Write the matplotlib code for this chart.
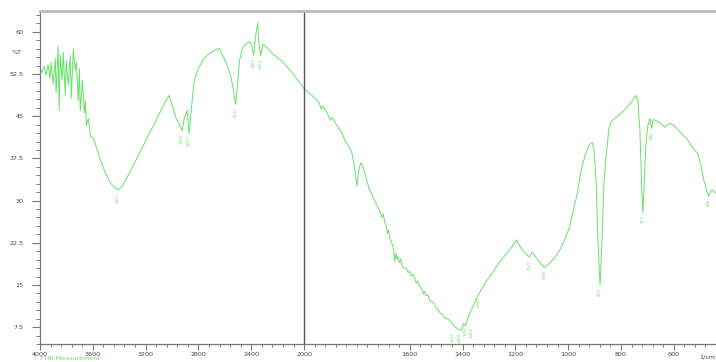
import numpy as np
import matplotlib
matplotlib.use("Agg")
import matplotlib.pyplot as plt
from matplotlib.ticker import FixedLocator, FuncFormatter

# FTIR spectrum (wavenumber 1/cm, transmittance %T)
wavenumber = [
    4000, 3985, 3969, 3954, 3939, 3924, 3916, 3901, 3885, 3878, 3863, 3855,
    3847, 3832, 3824, 3809, 3802, 3786, 3771, 3763, 3748, 3733, 3725, 3710,
    3702, 3695, 3679, 3664, 3656, 3649, 3634, 3618, 3595, 3565, 3542, 3504,
    3466, 3435, 3412, 3382, 3343, 3275, 3198, 3122, 3061, 3023, 3000, 2969,
    2939, 2924, 2908, 2885, 2870, 2855, 2832, 2801, 2756, 2702, 2656, 2641,
    2618, 2588, 2557, 2534, 2519, 2504, 2489, 2466, 2435, 2412, 2397, 2382,
    2366, 2351, 2344, 2328, 2313, 2290, 2244, 2168, 2092, 2000,
    1970, 1943, 1935, 1930, 1913, 1900, 1895, 1883, 1868, 1857, 1845, 1830,
    1819, 1808, 1800, 1792, 1785, 1777, 1770, 1755, 1736,
    1713, 1705, 1700, 1694, 1688, 1684, 1680, 1675, 1670, 1664, 1660, 1657,
    1652, 1648, 1645, 1638, 1634, 1630, 1625, 1619, 1612, 1606, 1600, 1594,
    1588, 1581, 1575, 1570, 1563, 1555, 1548, 1544, 1538, 1532, 1525, 1519,
    1512, 1506, 1499, 1492, 1485, 1479, 1470, 1462, 1453,
    1434, 1415, 1404, 1396,
    1389, 1374, 1358, 1347, 1340, 1328, 1309, 1290, 1264, 1226, 1207, 1196,
    1185, 1170, 1155, 1147, 1136, 1128, 1113, 1102, 1090, 1072, 1053, 1034,
    1015, 996, 981, 966, 951, 936, 921, 909, 902, 894, 887, 879, 872, 864,
    857, 845, 834, 823, 800, 781, 762, 743, 736, 728, 721, 717, 713, 706,
    698, 691, 683, 679, 668, 649, 634, 623, 611, 592, 574, 551, 528, 509,
    498, 487, 475, 468, 460, 453, 438,
]
transmittance = [
    53.5, 52.8, 53.9, 52.3, 54.2, 51.7, 54.6, 50.7, 55.3, 49.2, 57.4, 46.0,
    55.8, 51.4, 56.4, 48.7, 54.9, 50.5, 55.8, 48.2, 56.9, 53.2, 54.6, 47.8,
    53.5, 46.0, 51.4, 45.6, 47.8, 43.3, 44.6, 41.5, 41.0, 38.9, 37.1, 34.9,
    33.1, 32.3, 31.9, 32.4, 34.0, 37.1, 40.7, 44.2, 47.1, 48.7, 47.1, 44.6,
    43.3, 42.4, 44.6, 46.0, 41.9, 46.0, 51.4, 53.5, 55.3, 56.4, 56.9, 57.1,
    55.8, 54.4, 52.3, 49.6, 47.1, 50.5, 54.9, 57.1, 58.0, 58.2, 57.6, 55.8,
    59.4, 61.6, 58.5, 55.7, 57.8, 57.4, 56.2, 54.8, 52.8, 49.9,
    48.7, 47.4, 46.2, 46.8, 45.6, 44.3, 44.8, 43.9, 42.8, 42.1, 40.6, 39.6,
    38.5, 35.6, 32.6, 35.6, 36.7, 36.0, 34.9, 32.3, 30.3,
    28.1, 27.0, 27.6, 26.0, 25.5, 24.2, 24.8, 23.1, 22.8, 21.9, 21.0, 19.2,
    20.6, 19.6, 20.1, 19.0, 19.6, 18.8, 18.1, 18.0, 17.9, 17.2, 17.4, 16.6,
    16.9, 16.2, 15.3, 15.7, 14.8, 14.4, 13.4, 13.9, 13.1, 13.3, 12.4, 12.0,
    11.9, 11.6, 10.8, 10.6, 10.0, 9.9, 9.3, 9.1, 8.9,
    7.8, 7.1, 6.9, 8.1,
    7.8, 9.8, 11.4, 12.6, 13.3, 14.2, 15.7, 16.9, 18.8, 21.0, 22.1, 23.0,
    22.1, 21.0, 20.3, 20.0, 20.8, 20.3, 19.4, 18.7, 18.1, 18.8, 19.7, 21.0,
    22.8, 25.1, 28.1, 31.1, 35.3, 38.0, 39.8, 40.3, 39.2, 33.5, 22.8, 14.9, 22.8, 33.5,
    37.6, 43.0, 44.2, 44.6, 45.5, 46.4, 47.4, 48.7, 47.8, 42.4, 31.7, 27.8, 31.7, 39.7,
    43.3, 44.6, 42.8, 44.4, 44.2, 43.7, 43.0, 43.5, 43.7, 43.0, 42.1, 41.0, 39.4, 38.3,
    36.5, 33.8, 31.7, 30.8, 31.7, 31.9, 31.2,
]

# picked peaks (labels under the minima)
peak_wn = [3412, 2924, 2870, 2519, 2382, 2328, 1415, 1404, 1396, 1389, 1340,
           1147, 1090, 879, 717, 683, 468]
peak_t = [31.9, 42.4, 41.9, 47.1, 55.8, 55.7, 7.1, 6.9, 8.1, 7.8, 13.3,
          20.0, 18.1, 14.9, 27.8, 42.8, 30.8]

x_major = [4000, 3600, 3200, 2800, 2400, 2000, 1600, 1400, 1200, 1000, 800, 600]
y_major = [7.5, 15, 22.5, 30, 37.5, 45, 52.5, 60]

GREEN = "#66e266"


# x axis is expanded 2x below 2000 1/cm, like the instrument software
def fwd(x):
    x = np.asarray(x, dtype=float)
    return np.where(x >= 2000, x - 2000, 2 * (x - 2000))


def inv(t):
    t = np.asarray(t, dtype=float)
    return np.where(t >= 0, t + 2000, 2000 + t / 2)


fig = plt.figure(figsize=(7.16, 3.62), dpi=100)
ax = fig.add_axes([40 / 716, 18 / 362, 676 / 716, 333 / 362])

ax.plot(wavenumber, transmittance, color=GREEN, lw=0.7)

# spread the crowded labels around 1400 a little
cluster = [1415, 1404, 1396, 1389]
for w, t in zip(peak_wn, peak_t):
    dx = (cluster.index(w) - 1.5) * 3.0 if w in cluster else 0
    ax.annotate(str(w), xy=(w, t), xytext=(dx, -2), textcoords="offset points",
                rotation=90, ha="center", va="top", fontsize=2.8, color=GREEN)

ax.set_xscale("function", functions=(fwd, inv))
ax.set_xlim(4000, 440)
ax.set_ylim(4.5, 63.7)

ax.axvline(2000, color="#555555", lw=1.0)

ax.xaxis.set_major_locator(FixedLocator(x_major))
x_minor = list(range(4000, 2000, -80)) + list(range(2000, 439, -40))
ax.xaxis.set_minor_locator(FixedLocator(x_minor))
ax.xaxis.set_major_formatter(FuncFormatter(lambda v, p: f"{v:g}"))

ax.yaxis.set_major_locator(FixedLocator(y_major))
ax.yaxis.set_minor_locator(FixedLocator(np.arange(4.5, 63.8, 1.5)))
ax.yaxis.set_major_formatter(FuncFormatter(lambda v, p: f"{v:g}"))

ax.tick_params(axis="both", which="major", labelsize=4.6, labelcolor="#444444",
               color="#777777", width=0.8, direction="out")
ax.tick_params(axis="y", which="major", length=6, pad=6)
ax.tick_params(axis="y", which="minor", length=3, width=0.7, color="#777777")
ax.tick_params(axis="x", which="major", length=4, pad=2)
ax.tick_params(axis="x", which="minor", length=2.5, width=0.7, color="#777777")

for side in ["left", "bottom"]:
    ax.spines[side].set_color("#777777")
    ax.spines[side].set_linewidth(0.9)
ax.spines["top"].set_color("#bbbbbb")
ax.spines["top"].set_linewidth(2.0)
ax.spines["right"].set_visible(False)

ax.text(-0.034, 56.4, "%T", transform=ax.get_yaxis_transform(), ha="center",
        va="center", fontsize=4.6, color="#444444")
fig.text(715 / 716, 5 / 362, "1/cm", ha="right", va="center", fontsize=4.6,
         color="#444444")
fig.text(40 / 716, 3 / 362, "FTIR Measurement", ha="left", va="center",
         fontsize=4.6, color=GREEN)

fig.savefig("out.png", dpi=100, facecolor="white")
